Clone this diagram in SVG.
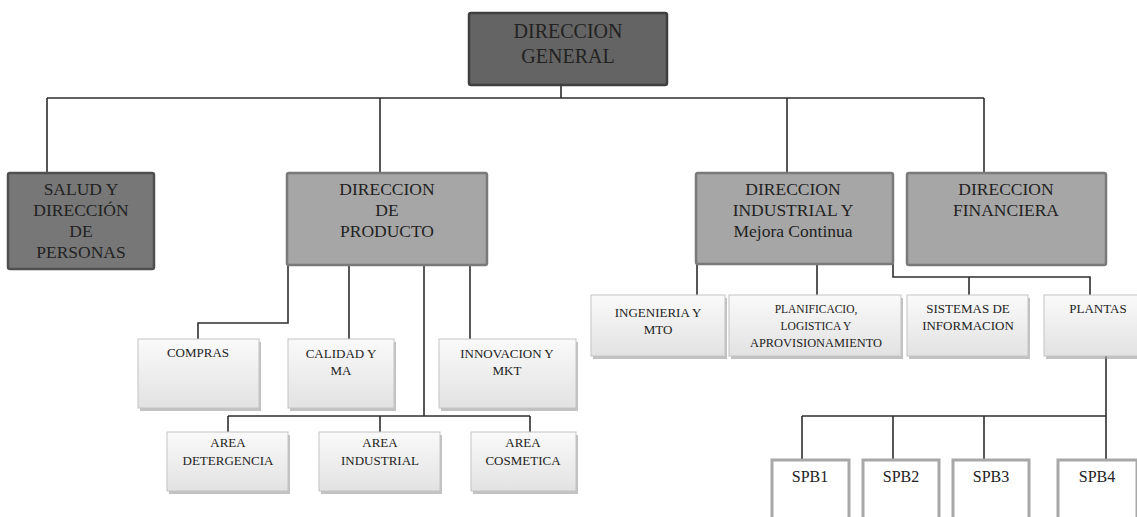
<svg xmlns="http://www.w3.org/2000/svg" width="1137" height="517" viewBox="0 0 1137 517">
<defs>
<linearGradient id="lg" x1="0" y1="0" x2="0" y2="1">
<stop offset="0" stop-color="#fafafa"/>
<stop offset="1" stop-color="#e2e2e2"/>
</linearGradient>
</defs>
<style>
text{fill:#222;text-anchor:middle}
.big{font-size:20px}
.mid{font-size:17.5px}
.sm{font-size:13px}
.xs{font-size:11.5px}
.spb{font-size:16px}
.dg{fill:#646464;stroke:#3f3f3f;stroke-width:2.5}
.sd{fill:#777777;stroke:#4f4f4f;stroke-width:2.5}
.md{fill:#a6a6a6;stroke:#7a7a7a;stroke-width:2.5}
.lt{fill:url(#lg);stroke:#c4c4c4;stroke-width:1}
.sh{fill:#9a9a9a;opacity:0.6}
.sp{fill:#ffffff;stroke:#a8a8a8;stroke-width:3}
.c{fill:none;stroke:#2e2e2e;stroke-width:1.6}
</style>
<g id="connectors" class="c">
<path d="M561 85V98M47 98H984M47 98V173M380 98V173M787 98V173M984 98V173"/>
<path d="M288 265V323H198V339M349 265V339M470 265V339M424 265V416M228 416H530M228 416V432M380 416V432M530 416V432"/>
<path d="M697 188V295M817 264V295M893 264V277H1090V295M969 277V295"/>
<path d="M1106 356V416M802 416H1106M802 416V460M893 416V460M984 416V460M1106 416V460"/>
</g>
<g font-family="Liberation Serif, Times New Roman, Times, Noto Serif, DejaVu Serif, serif">
<g id="direccion-general">
<rect class="dg" x="469" y="13" width="198" height="72" rx="2"/>
<text class="big" x="568" y="38">DIRECCION</text>
<text class="big" x="568" y="63">GENERAL</text>
</g>
<g id="salud">
<rect class="sd" x="8" y="173" width="146" height="96" rx="2"/>
<text class="mid" x="81" y="195">SALUD Y</text>
<text class="mid" x="81" y="216">DIRECCIÓN</text>
<text class="mid" x="81" y="237">DE</text>
<text class="mid" x="81" y="258">PERSONAS</text>
</g>
<g id="direccion-producto">
<rect class="md" x="287" y="173" width="200" height="92" rx="2"/>
<text class="mid" x="387" y="195">DIRECCION</text>
<text class="mid" x="387" y="216">DE</text>
<text class="mid" x="387" y="237">PRODUCTO</text>
</g>
<g id="direccion-industrial">
<rect class="md" x="696" y="173" width="197" height="91" rx="2"/>
<text class="mid" x="793" y="195">DIRECCION</text>
<text class="mid" x="793" y="216">INDUSTRIAL Y</text>
<text class="mid" x="793" y="237">Mejora Continua</text>
</g>
<g id="direccion-financiera">
<rect class="md" x="907" y="173" width="199" height="92" rx="2"/>
<text class="mid" x="1006" y="195">DIRECCION</text>
<text class="mid" x="1006" y="216">FINANCIERA</text>
</g>
<g id="compras">
<rect class="sh" x="140" y="342" width="121" height="69"/>
<rect class="lt" x="138" y="339" width="121" height="69"/>
<text class="sm" x="198" y="357">COMPRAS</text>
</g>
<g id="calidad">
<rect class="sh" x="290" y="342" width="106" height="69"/>
<rect class="lt" x="288" y="339" width="106" height="69"/>
<text class="sm" x="341" y="358">CALIDAD Y</text>
<text class="sm" x="341" y="375">MA</text>
</g>
<g id="innovacion">
<rect class="sh" x="441" y="342" width="137" height="69"/>
<rect class="lt" x="439" y="339" width="137" height="69"/>
<text class="sm" x="507" y="358">INNOVACION Y</text>
<text class="sm" x="507" y="375">MKT</text>
</g>
<g id="area-detergencia">
<rect class="sh" x="169" y="435" width="121" height="59"/>
<rect class="lt" x="167" y="432" width="121" height="59"/>
<text class="sm" x="228" y="447">AREA</text>
<text class="sm" x="228" y="465">DETERGENCIA</text>
</g>
<g id="area-industrial">
<rect class="sh" x="321" y="435" width="121" height="59"/>
<rect class="lt" x="319" y="432" width="121" height="59"/>
<text class="sm" x="380" y="447">AREA</text>
<text class="sm" x="380" y="465">INDUSTRIAL</text>
</g>
<g id="area-cosmetica">
<rect class="sh" x="473" y="435" width="105" height="59"/>
<rect class="lt" x="471" y="432" width="105" height="59"/>
<text class="sm" x="523" y="447">AREA</text>
<text class="sm" x="523" y="465">COSMETICA</text>
</g>
<g id="ingenieria">
<rect class="sh" x="593" y="298" width="134" height="61"/>
<rect class="lt" x="591" y="295" width="134" height="61"/>
<text class="sm" x="658" y="317">INGENIERIA Y</text>
<text class="sm" x="658" y="334">MTO</text>
</g>
<g id="planificacion">
<rect class="sh" x="731" y="298" width="172" height="61"/>
<rect class="lt" x="729" y="295" width="172" height="61"/>
<text class="xs" x="816" y="313">PLANIFICACIO,</text>
<text class="xs" x="816" y="330">LOGISTICA Y</text>
<text class="xs" x="816" y="347" textLength="132" lengthAdjust="spacingAndGlyphs">APROVISIONAMIENTO</text>
</g>
<g id="sistemas">
<rect class="sh" x="909" y="298" width="121" height="61"/>
<rect class="lt" x="907" y="295" width="121" height="61"/>
<text class="sm" x="968" y="313">SISTEMAS DE</text>
<text class="sm" x="968" y="330">INFORMACION</text>
</g>
<g id="plantas">
<rect class="sh" x="1046" y="298" width="100" height="61"/>
<rect class="lt" x="1044" y="295" width="100" height="61"/>
<text class="sm" x="1098" y="313">PLANTAS</text>
</g>
<g id="spb1">
<rect class="sp" x="772" y="460" width="77" height="80"/>
<text class="spb" x="810" y="482">SPB1</text>
</g>
<g id="spb2">
<rect class="sp" x="863" y="460" width="76" height="80"/>
<text class="spb" x="901" y="482">SPB2</text>
</g>
<g id="spb3">
<rect class="sp" x="953" y="460" width="76" height="80"/>
<text class="spb" x="991" y="482">SPB3</text>
</g>
<g id="spb4">
<rect class="sp" x="1058" y="460" width="79" height="80"/>
<text class="spb" x="1097" y="482">SPB4</text>
</g>
</g>
</svg>
